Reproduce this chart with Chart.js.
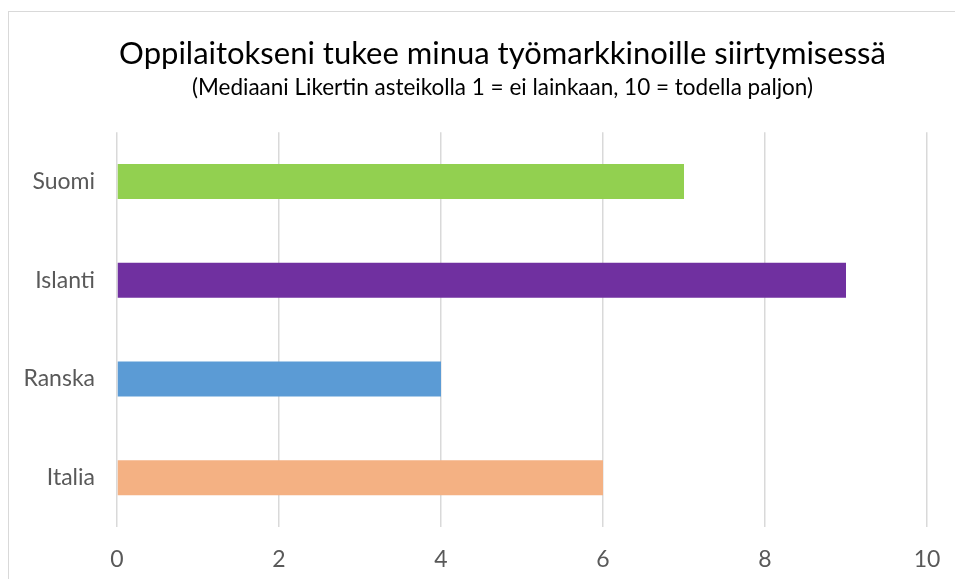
<!DOCTYPE html>
<html>
<head>
<meta charset="utf-8">
<script src="https://cdn.jsdelivr.net/npm/chart.js@4.4.0/dist/chart.umd.min.js"></script>
<style>
  html, body { margin: 0; padding: 0; background: #fff; overflow: hidden; }
  #wrap { position: relative; width: 955px; height: 579px; }
  #frame { position: absolute; left: 8px; top: 11px; width: 1100px; height: 1100px; border: 1.5px solid #d9d9d9; }
  canvas { position: absolute; left: 0; top: 0; }
</style>
</head>
<body>
<div id="wrap">
  <div id="frame"></div>
  <canvas id="myChart" width="955" height="579"></canvas>
</div>
<script>
const titleText = 'Oppilaitokseni tukee minua työmarkkinoille siirtymisessä'
const subtitleText = '(Mediaani Likertin asteikolla 1 = ei lainkaan, 10 = todella paljon)'
const countries = ['Suomi', 'Islanti', 'Ranska', 'Italia']
const medians = [7, 9, 4, 6]
const barColors = ['#92D050', '#7030A0', '#5B9BD5', '#F4B183']
const xTicks = [0, 2, 4, 6, 8, 10]

const fontFam = 'Lato, "Open Sans", sans-serif'

// the frame runs off the right edge, the titles are centred on it (x ~502)
const centreTitles = {
   id: 'centreTitles',
   afterLayout(chart) {
      chart.boxes.forEach(b => {
         if (b.options && b.options.position === 'top') {
            b.left = 2 * 502.5 - b.right
            b.width = b.right - b.left
         }
      })
   }
}

let ctx = document.getElementById('myChart').getContext('2d')
new Chart(ctx, {
   type: 'bar',
   data: {
      labels: countries,
      datasets: [{
         data: medians,
         backgroundColor: barColors,
         barPercentage: 1,
         categoryPercentage: 0.355
      }]
   },
   options: {
      indexAxis: 'y',
      responsive: false,
      animation: false,
      layout: { padding: { left: 0, right: 28, top: 0, bottom: 0 } },
      plugins: {
         legend: { display: false },
         tooltip: { enabled: false },
         title: {
            display: true,
            text: titleText,
            color: '#000',
            font: { family: fontFam, size: 31, weight: 'normal', lineHeight: 1.2 },
            padding: { top: 35, bottom: 2 }
         },
         subtitle: {
            display: true,
            text: subtitleText,
            color: '#000',
            font: { family: fontFam, size: 22.5, weight: 'normal', lineHeight: 1.2 },
            padding: { top: 0, bottom: 31 }
         }
      },
      scales: {
         x: {
            min: 0,
            max: 10,
            afterBuildTicks: axis => { axis.ticks = xTicks.map(v => ({ value: v })) },
            grid: { color: '#d9d9d9', lineWidth: 1.5, drawTicks: false },
            border: { display: false },
            ticks: { color: '#595959', font: { family: fontFam, size: 23 }, padding: 19 },
            afterFit: axis => {
               axis.height = 52
               axis.paddingLeft = 0
               axis.paddingRight = 0
            }
         },
         y: {
            grid: { display: false, drawTicks: false },
            border: { display: false },
            ticks: { color: '#595959', font: { family: fontFam, size: 23 }, padding: 22 },
            afterFit: axis => { axis.width = 117 }
         }
      }
   },
   plugins: [centreTitles]
})
</script>
</body>
</html>
